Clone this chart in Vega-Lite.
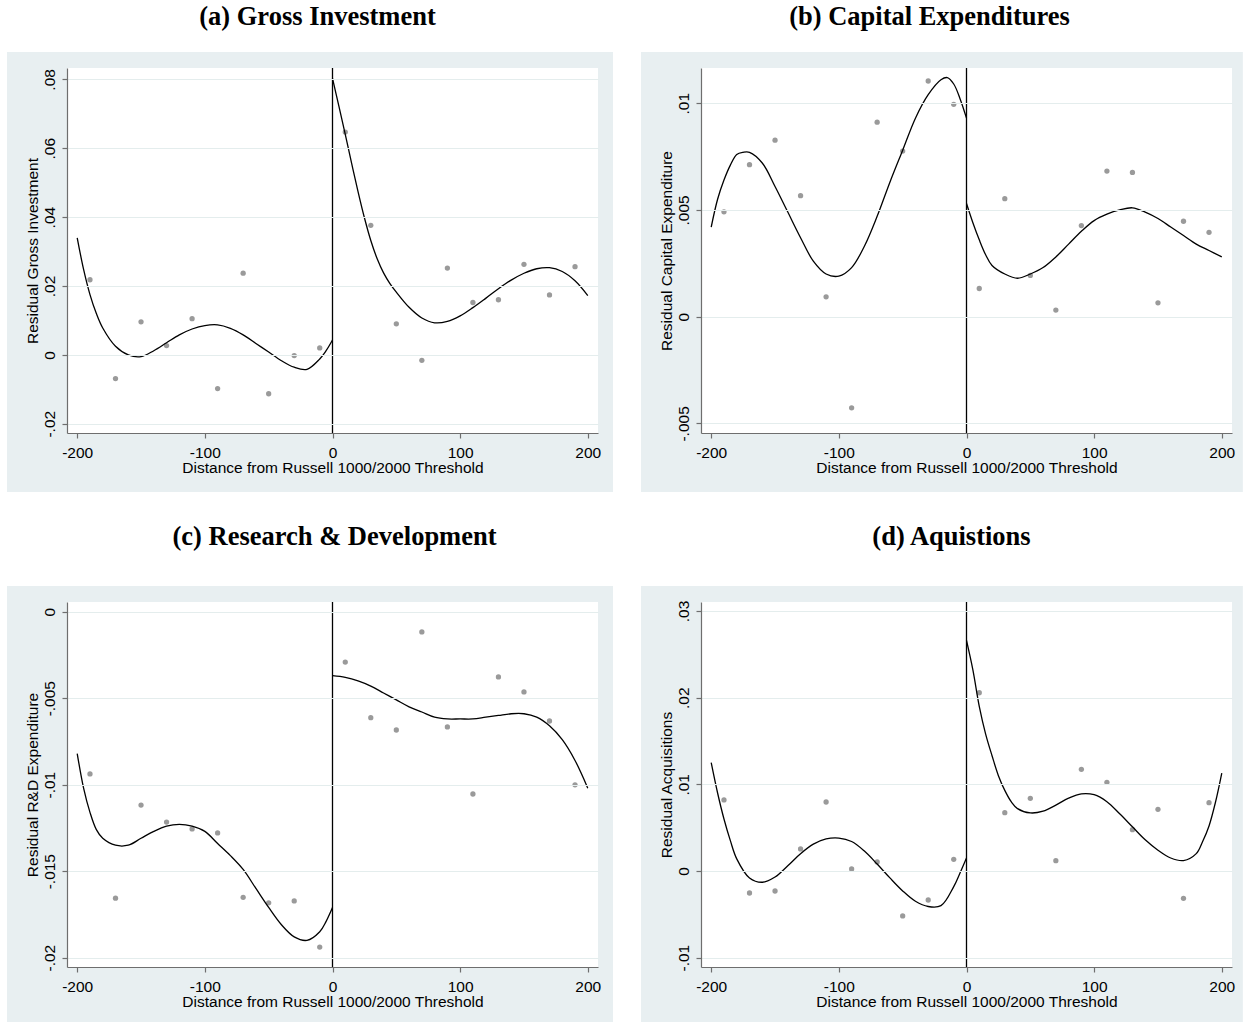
{
  "$schema": "https://vega.github.io/schema/vega-lite/v6.json",
  "background": "white",
  "padding": {"left": 7, "top": 4, "right": 0, "bottom": 0},
  "config": {
    "view": {"stroke": null, "fill": "white"},
    "axis": {"labelFont": "Liberation Sans", "titleFont": "Liberation Sans", "labelFontSize": 15.5, "titleFontSize": 15.5, "titleFontWeight": "normal", "labelColor": "black", "titleColor": "black", "domainColor": "#6e6e6e", "tickColor": "#6e6e6e", "tickSize": 5, "domainWidth": 1.2, "tickWidth": 1.2, "labelFlush": false, "labelOverlap": false},
    "axisX": {"grid": false, "labelPadding": 7, "titlePadding": 0, "labelExpr": "replace(datum.label, '−', '-')"},
    "axisY": {"grid": true, "gridColor": "#e4eded", "gridWidth": 1.2, "labelAngle": 270, "labelAlign": "center", "labelBaseline": "alphabetic", "labelPadding": 8, "titlePadding": 2, "labelExpr": "replace(replace(format(datum.value, '~g'), '−', '-'), '0.', '.')"},
    "title": {"font": "Liberation Serif", "fontSize": 26.5, "fontWeight": "bold", "color": "black"}
  },
  "datasets": {
    "a_pts": [
      {"x": -190, "y": 0.0218}, {"x": -170, "y": -0.0069}, {"x": -150, "y": 0.0096}, {"x": -130, "y": 0.0027}, {"x": -110, "y": 0.0105},
      {"x": -90, "y": -0.0098}, {"x": -70, "y": 0.0237}, {"x": -50, "y": -0.0113}, {"x": -30, "y": -0.0002}, {"x": -10, "y": 0.0020},
      {"x": 10, "y": 0.0647}, {"x": 30, "y": 0.0376}, {"x": 50, "y": 0.0090}, {"x": 70, "y": -0.0016}, {"x": 90, "y": 0.0252},
      {"x": 110, "y": 0.0152}, {"x": 130, "y": 0.0160}, {"x": 150, "y": 0.0263}, {"x": 170, "y": 0.0174}, {"x": 190, "y": 0.0256}
    ],
    "a_fit": [
      {"s": "L", "x": -200, "y": 0.0340}, {"s": "L", "x": -195, "y": 0.0248}, {"s": "L", "x": -190, "y": 0.0175}, {"s": "L", "x": -185, "y": 0.0120},
      {"s": "L", "x": -180, "y": 0.0078}, {"s": "L", "x": -170, "y": 0.0025}, {"s": "L", "x": -160, "y": 0.0000}, {"s": "L", "x": -150, "y": -0.0005},
      {"s": "L", "x": -140, "y": 0.0012}, {"s": "L", "x": -130, "y": 0.0035}, {"s": "L", "x": -120, "y": 0.0058}, {"s": "L", "x": -110, "y": 0.0075},
      {"s": "L", "x": -100, "y": 0.0085}, {"s": "L", "x": -90, "y": 0.0087}, {"s": "L", "x": -80, "y": 0.0077}, {"s": "L", "x": -70, "y": 0.0058},
      {"s": "L", "x": -60, "y": 0.0033}, {"s": "L", "x": -50, "y": 0.0008}, {"s": "L", "x": -40, "y": -0.0017}, {"s": "L", "x": -30, "y": -0.0036},
      {"s": "L", "x": -20, "y": -0.0042}, {"s": "L", "x": -10, "y": -0.0012}, {"s": "L", "x": -5, "y": 0.0012}, {"s": "L", "x": 0, "y": 0.0043},
      {"s": "R", "x": 0, "y": 0.0803}, {"s": "R", "x": 5, "y": 0.0722}, {"s": "R", "x": 10, "y": 0.0640}, {"s": "R", "x": 15, "y": 0.0556},
      {"s": "R", "x": 20, "y": 0.0474}, {"s": "R", "x": 25, "y": 0.0398}, {"s": "R", "x": 30, "y": 0.0332}, {"s": "R", "x": 35, "y": 0.0279},
      {"s": "R", "x": 40, "y": 0.0238}, {"s": "R", "x": 45, "y": 0.0207}, {"s": "R", "x": 50, "y": 0.0182}, {"s": "R", "x": 60, "y": 0.0138},
      {"s": "R", "x": 70, "y": 0.0107}, {"s": "R", "x": 80, "y": 0.0093}, {"s": "R", "x": 90, "y": 0.0097}, {"s": "R", "x": 100, "y": 0.0113},
      {"s": "R", "x": 110, "y": 0.0137}, {"s": "R", "x": 120, "y": 0.0164}, {"s": "R", "x": 130, "y": 0.0192}, {"s": "R", "x": 140, "y": 0.0217},
      {"s": "R", "x": 150, "y": 0.0237}, {"s": "R", "x": 160, "y": 0.0250}, {"s": "R", "x": 170, "y": 0.0253}, {"s": "R", "x": 180, "y": 0.0242},
      {"s": "R", "x": 190, "y": 0.0215}, {"s": "R", "x": 200, "y": 0.0172}
    ],
    "b_pts": [
      {"x": -190, "y": 0.00491}, {"x": -170, "y": 0.00712}, {"x": -150, "y": 0.00827}, {"x": -130, "y": 0.00567}, {"x": -110, "y": 0.00093},
      {"x": -90, "y": -0.00427}, {"x": -70, "y": 0.00911}, {"x": -50, "y": 0.00776}, {"x": -30, "y": 0.01104}, {"x": -10, "y": 0.00995},
      {"x": 10, "y": 0.00132}, {"x": 30, "y": 0.00553}, {"x": 50, "y": 0.00193}, {"x": 70, "y": 0.00031}, {"x": 90, "y": 0.00427},
      {"x": 110, "y": 0.00682}, {"x": 130, "y": 0.00676}, {"x": 150, "y": 0.00065}, {"x": 170, "y": 0.00447}, {"x": 190, "y": 0.00395}
    ],
    "b_fit": [
      {"s": "L", "x": -200, "y": 0.0042}, {"s": "L", "x": -195, "y": 0.0055}, {"s": "L", "x": -190, "y": 0.0064}, {"s": "L", "x": -185, "y": 0.0071},
      {"s": "L", "x": -180, "y": 0.0076}, {"s": "L", "x": -175, "y": 0.0077}, {"s": "L", "x": -170, "y": 0.0077}, {"s": "L", "x": -160, "y": 0.0072},
      {"s": "L", "x": -150, "y": 0.0061}, {"s": "L", "x": -140, "y": 0.0049}, {"s": "L", "x": -130, "y": 0.0037}, {"s": "L", "x": -120, "y": 0.0026},
      {"s": "L", "x": -110, "y": 0.0020}, {"s": "L", "x": -100, "y": 0.0019}, {"s": "L", "x": -90, "y": 0.0023}, {"s": "L", "x": -80, "y": 0.0033},
      {"s": "L", "x": -70, "y": 0.0047}, {"s": "L", "x": -60, "y": 0.0063}, {"s": "L", "x": -50, "y": 0.0078}, {"s": "L", "x": -40, "y": 0.0093},
      {"s": "L", "x": -30, "y": 0.0104}, {"s": "L", "x": -20, "y": 0.0111}, {"s": "L", "x": -15, "y": 0.0112}, {"s": "L", "x": -10, "y": 0.0109},
      {"s": "L", "x": -5, "y": 0.0102}, {"s": "L", "x": 0, "y": 0.0093},
      {"s": "R", "x": 0, "y": 0.0053}, {"s": "R", "x": 5, "y": 0.0044}, {"s": "R", "x": 10, "y": 0.0036}, {"s": "R", "x": 15, "y": 0.0029},
      {"s": "R", "x": 20, "y": 0.0024}, {"s": "R", "x": 30, "y": 0.0020}, {"s": "R", "x": 40, "y": 0.0018}, {"s": "R", "x": 50, "y": 0.0020},
      {"s": "R", "x": 60, "y": 0.0023}, {"s": "R", "x": 70, "y": 0.0028}, {"s": "R", "x": 80, "y": 0.0034}, {"s": "R", "x": 90, "y": 0.0040},
      {"s": "R", "x": 100, "y": 0.0045}, {"s": "R", "x": 110, "y": 0.0048}, {"s": "R", "x": 120, "y": 0.0050}, {"s": "R", "x": 130, "y": 0.0051},
      {"s": "R", "x": 140, "y": 0.0049}, {"s": "R", "x": 150, "y": 0.0046}, {"s": "R", "x": 160, "y": 0.0042}, {"s": "R", "x": 170, "y": 0.0038},
      {"s": "R", "x": 180, "y": 0.0034}, {"s": "R", "x": 190, "y": 0.0031}, {"s": "R", "x": 200, "y": 0.0028}
    ],
    "c_pts": [
      {"x": -190, "y": -0.00938}, {"x": -170, "y": -0.01656}, {"x": -150, "y": -0.01118}, {"x": -130, "y": -0.01216}, {"x": -110, "y": -0.01256},
      {"x": -90, "y": -0.01279}, {"x": -70, "y": -0.01651}, {"x": -50, "y": -0.01683}, {"x": -30, "y": -0.01672}, {"x": -10, "y": -0.01939},
      {"x": 10, "y": -0.00291}, {"x": 30, "y": -0.00613}, {"x": 50, "y": -0.00684}, {"x": 70, "y": -0.00117}, {"x": 90, "y": -0.00666},
      {"x": 110, "y": -0.01054}, {"x": 130, "y": -0.00377}, {"x": 150, "y": -0.00464}, {"x": 170, "y": -0.00632}, {"x": 190, "y": -0.01001}
    ],
    "c_fit": [
      {"s": "L", "x": -200, "y": -0.0082}, {"s": "L", "x": -195, "y": -0.0102}, {"s": "L", "x": -190, "y": -0.0116}, {"s": "L", "x": -185, "y": -0.0126},
      {"s": "L", "x": -180, "y": -0.0131}, {"s": "L", "x": -170, "y": -0.0135}, {"s": "L", "x": -160, "y": -0.0135}, {"s": "L", "x": -150, "y": -0.0131},
      {"s": "L", "x": -140, "y": -0.0127}, {"s": "L", "x": -130, "y": -0.0124}, {"s": "L", "x": -120, "y": -0.0123}, {"s": "L", "x": -110, "y": -0.0124},
      {"s": "L", "x": -100, "y": -0.0127}, {"s": "L", "x": -90, "y": -0.0134}, {"s": "L", "x": -80, "y": -0.0141}, {"s": "L", "x": -70, "y": -0.0149},
      {"s": "L", "x": -60, "y": -0.0160}, {"s": "L", "x": -50, "y": -0.0171}, {"s": "L", "x": -40, "y": -0.0181}, {"s": "L", "x": -30, "y": -0.0188},
      {"s": "L", "x": -20, "y": -0.0190}, {"s": "L", "x": -10, "y": -0.0185}, {"s": "L", "x": -5, "y": -0.0179}, {"s": "L", "x": 0, "y": -0.0171},
      {"s": "R", "x": 0, "y": -0.0037}, {"s": "R", "x": 10, "y": -0.0038}, {"s": "R", "x": 20, "y": -0.0040}, {"s": "R", "x": 30, "y": -0.0043},
      {"s": "R", "x": 40, "y": -0.0047}, {"s": "R", "x": 50, "y": -0.0051}, {"s": "R", "x": 60, "y": -0.0055}, {"s": "R", "x": 70, "y": -0.0058},
      {"s": "R", "x": 80, "y": -0.0061}, {"s": "R", "x": 90, "y": -0.0062}, {"s": "R", "x": 100, "y": -0.0062}, {"s": "R", "x": 110, "y": -0.0062},
      {"s": "R", "x": 120, "y": -0.0061}, {"s": "R", "x": 130, "y": -0.0060}, {"s": "R", "x": 140, "y": -0.0059}, {"s": "R", "x": 150, "y": -0.0059},
      {"s": "R", "x": 160, "y": -0.0061}, {"s": "R", "x": 170, "y": -0.0066}, {"s": "R", "x": 180, "y": -0.0074}, {"s": "R", "x": 190, "y": -0.0086},
      {"s": "R", "x": 200, "y": -0.0102}
    ],
    "d_pts": [
      {"x": -190, "y": 0.0082}, {"x": -170, "y": -0.00254}, {"x": -150, "y": -0.00231}, {"x": -130, "y": 0.00254}, {"x": -110, "y": 0.00796},
      {"x": -90, "y": 0.00023}, {"x": -70, "y": 0.00104}, {"x": -50, "y": -0.00519}, {"x": -30, "y": -0.00335}, {"x": -10, "y": 0.00135},
      {"x": 10, "y": 0.02057}, {"x": 30, "y": 0.00673}, {"x": 50, "y": 0.00838}, {"x": 70, "y": 0.00119}, {"x": 90, "y": 0.01173},
      {"x": 110, "y": 0.01023}, {"x": 130, "y": 0.00477}, {"x": 150, "y": 0.00712}, {"x": 170, "y": -0.00315}, {"x": 190, "y": 0.00788}
    ],
    "d_fit": [
      {"s": "L", "x": -200, "y": 0.0125}, {"s": "L", "x": -195, "y": 0.0090}, {"s": "L", "x": -190, "y": 0.0060}, {"s": "L", "x": -185, "y": 0.0035},
      {"s": "L", "x": -180, "y": 0.0014}, {"s": "L", "x": -170, "y": -0.0008}, {"s": "L", "x": -160, "y": -0.0013}, {"s": "L", "x": -150, "y": -0.0007},
      {"s": "L", "x": -140, "y": 0.0006}, {"s": "L", "x": -130, "y": 0.0020}, {"s": "L", "x": -120, "y": 0.0031}, {"s": "L", "x": -110, "y": 0.0037},
      {"s": "L", "x": -100, "y": 0.0038}, {"s": "L", "x": -90, "y": 0.0034}, {"s": "L", "x": -80, "y": 0.0023}, {"s": "L", "x": -70, "y": 0.0008},
      {"s": "L", "x": -60, "y": -0.0008}, {"s": "L", "x": -50, "y": -0.0023}, {"s": "L", "x": -40, "y": -0.0035}, {"s": "L", "x": -30, "y": -0.0041},
      {"s": "L", "x": -20, "y": -0.0040}, {"s": "L", "x": -10, "y": -0.0018}, {"s": "L", "x": -5, "y": -0.0002}, {"s": "L", "x": 0, "y": 0.0015},
      {"s": "R", "x": 0, "y": 0.0266}, {"s": "R", "x": 5, "y": 0.0232}, {"s": "R", "x": 10, "y": 0.0190}, {"s": "R", "x": 15, "y": 0.0158},
      {"s": "R", "x": 20, "y": 0.0133}, {"s": "R", "x": 25, "y": 0.0110}, {"s": "R", "x": 30, "y": 0.0093}, {"s": "R", "x": 35, "y": 0.0080},
      {"s": "R", "x": 40, "y": 0.0072}, {"s": "R", "x": 50, "y": 0.0067}, {"s": "R", "x": 60, "y": 0.0069}, {"s": "R", "x": 70, "y": 0.0076},
      {"s": "R", "x": 80, "y": 0.0084}, {"s": "R", "x": 90, "y": 0.0089}, {"s": "R", "x": 100, "y": 0.0088}, {"s": "R", "x": 110, "y": 0.0080},
      {"s": "R", "x": 120, "y": 0.0066}, {"s": "R", "x": 130, "y": 0.0051}, {"s": "R", "x": 140, "y": 0.0036}, {"s": "R", "x": 150, "y": 0.0024},
      {"s": "R", "x": 160, "y": 0.0015}, {"s": "R", "x": 170, "y": 0.0012}, {"s": "R", "x": 180, "y": 0.0020}, {"s": "R", "x": 185, "y": 0.0034},
      {"s": "R", "x": 190, "y": 0.0052}, {"s": "R", "x": 195, "y": 0.0079}, {"s": "R", "x": 200, "y": 0.0113}
    ]
  },
  "spacing": 32,
  "vconcat": [
    {
      "spacing": 28,
      "hconcat": [
        {
          "width": 531, "height": 365,
          "title": {"text": "(a) Gross Investment", "frame": "group", "dx": -15, "offset": 21},
          "layer": [
            {"data": {"values": [{}]}, "mark": {"type": "rect", "color": "#e8eff1"},
             "encoding": {
               "x": {"datum": -255, "type": "quantitative", "scale": {"domain": [-208, 208], "nice": false, "zero": false}},
               "x2": {"datum": 219.75},
               "y": {"datum": 0.08795, "type": "quantitative", "scale": {"domain": [-0.0227, 0.0833], "nice": false, "zero": false}},
               "y2": {"datum": -0.03983}}},
            {"data": {"values": [{}]}, "mark": {"type": "rect", "color": "white"},
             "encoding": {
               "x": {"datum": -208, "type": "quantitative", "scale": {"domain": [-208, 208], "nice": false, "zero": false}},
               "x2": {"datum": 208},
               "y": {"datum": 0.0833, "type": "quantitative", "scale": {"domain": [-0.0227, 0.0833], "nice": false, "zero": false}},
               "y2": {"datum": -0.0227}}},
            {"data": {"name": "a_pts"}, "mark": {"type": "circle", "color": "#9a9a9a", "opacity": 1, "size": 28},
             "encoding": {
               "x": {"field": "x", "type": "quantitative", "scale": {"domain": [-208, 208], "nice": false, "zero": false}, "axis": {"zindex": 1, "title": "Distance from Russell 1000/2000 Threshold", "values": [-200, -100, 0, 100, 200]}},
               "y": {"field": "y", "type": "quantitative", "scale": {"domain": [-0.0227, 0.0833], "nice": false, "zero": false}, "axis": {"zindex": 1, "title": "Residual Gross Investment", "values": [-0.02, 0, 0.02, 0.04, 0.06, 0.08]}}}},
            {"data": {"name": "a_fit"}, "mark": {"type": "line", "color": "black", "strokeWidth": 1.3, "interpolate": "catmull-rom"},
             "encoding": {
               "x": {"field": "x", "type": "quantitative", "scale": {"domain": [-208, 208], "nice": false, "zero": false}},
               "y": {"field": "y", "type": "quantitative", "scale": {"domain": [-0.0227, 0.0833], "nice": false, "zero": false}},
               "detail": {"field": "s"}}},
            {"data": {"values": [{}]}, "mark": {"type": "rule", "color": "black", "strokeWidth": 1.3},
             "encoding": {"x": {"datum": 0, "type": "quantitative", "scale": {"domain": [-208, 208], "nice": false, "zero": false}}}}
          ]
        },
        {
          "width": 531, "height": 365,
          "title": {"text": "(b) Capital Expenditures", "frame": "group", "dx": -37, "offset": 21},
          "layer": [
            {"data": {"values": [{}]}, "mark": {"type": "rect", "color": "#e8eff1"},
             "encoding": {
               "x": {"datum": -255, "type": "quantitative", "scale": {"domain": [-208, 208], "nice": false, "zero": false}},
               "x2": {"datum": 216.5},
               "y": {"datum": 0.0124, "type": "quantitative", "scale": {"domain": [-0.00545, 0.01165], "nice": false, "zero": false}},
               "y2": {"datum": -0.00821}}},
            {"data": {"values": [{}]}, "mark": {"type": "rect", "color": "white"},
             "encoding": {
               "x": {"datum": -208, "type": "quantitative", "scale": {"domain": [-208, 208], "nice": false, "zero": false}},
               "x2": {"datum": 208},
               "y": {"datum": 0.01165, "type": "quantitative", "scale": {"domain": [-0.00545, 0.01165], "nice": false, "zero": false}},
               "y2": {"datum": -0.00545}}},
            {"data": {"name": "b_pts"}, "mark": {"type": "circle", "color": "#9a9a9a", "opacity": 1, "size": 28},
             "encoding": {
               "x": {"field": "x", "type": "quantitative", "scale": {"domain": [-208, 208], "nice": false, "zero": false}, "axis": {"zindex": 1, "title": "Distance from Russell 1000/2000 Threshold", "values": [-200, -100, 0, 100, 200]}},
               "y": {"field": "y", "type": "quantitative", "scale": {"domain": [-0.00545, 0.01165], "nice": false, "zero": false}, "axis": {"zindex": 1, "title": "Residual Capital Expenditure", "values": [-0.005, 0, 0.005, 0.01]}}}},
            {"data": {"name": "b_fit"}, "mark": {"type": "line", "color": "black", "strokeWidth": 1.3, "interpolate": "catmull-rom"},
             "encoding": {
               "x": {"field": "x", "type": "quantitative", "scale": {"domain": [-208, 208], "nice": false, "zero": false}},
               "y": {"field": "y", "type": "quantitative", "scale": {"domain": [-0.00545, 0.01165], "nice": false, "zero": false}},
               "detail": {"field": "s"}}},
            {"data": {"values": [{}]}, "mark": {"type": "rule", "color": "black", "strokeWidth": 1.3},
             "encoding": {"x": {"datum": 0, "type": "quantitative", "scale": {"domain": [-208, 208], "nice": false, "zero": false}}}}
          ]
        }
      ]
    },
    {
      "spacing": 28,
      "hconcat": [
        {
          "width": 531, "height": 365,
          "title": {"text": "(c) Research & Development", "frame": "group", "dx": 2, "offset": 35},
          "layer": [
            {"data": {"values": [{}]}, "mark": {"type": "rect", "color": "#e8eff1"},
             "encoding": {
               "x": {"datum": -255, "type": "quantitative", "scale": {"domain": [-208, 208], "nice": false, "zero": false}},
               "x2": {"datum": 219.75},
               "y": {"datum": 0.00149, "type": "quantitative", "scale": {"domain": [-0.02054, 0.00056], "nice": false, "zero": false}},
               "y2": {"datum": -0.02372}}},
            {"data": {"values": [{}]}, "mark": {"type": "rect", "color": "white"},
             "encoding": {
               "x": {"datum": -208, "type": "quantitative", "scale": {"domain": [-208, 208], "nice": false, "zero": false}},
               "x2": {"datum": 208},
               "y": {"datum": 0.00056, "type": "quantitative", "scale": {"domain": [-0.02054, 0.00056], "nice": false, "zero": false}},
               "y2": {"datum": -0.02054}}},
            {"data": {"name": "c_pts"}, "mark": {"type": "circle", "color": "#9a9a9a", "opacity": 1, "size": 28},
             "encoding": {
               "x": {"field": "x", "type": "quantitative", "scale": {"domain": [-208, 208], "nice": false, "zero": false}, "axis": {"zindex": 1, "title": "Distance from Russell 1000/2000 Threshold", "values": [-200, -100, 0, 100, 200]}},
               "y": {"field": "y", "type": "quantitative", "scale": {"domain": [-0.02054, 0.00056], "nice": false, "zero": false}, "axis": {"zindex": 1, "title": "Residual R&D Expenditure", "values": [-0.02, -0.015, -0.01, -0.005, 0]}}}},
            {"data": {"name": "c_fit"}, "mark": {"type": "line", "color": "black", "strokeWidth": 1.3, "interpolate": "catmull-rom"},
             "encoding": {
               "x": {"field": "x", "type": "quantitative", "scale": {"domain": [-208, 208], "nice": false, "zero": false}},
               "y": {"field": "y", "type": "quantitative", "scale": {"domain": [-0.02054, 0.00056], "nice": false, "zero": false}},
               "detail": {"field": "s"}}},
            {"data": {"values": [{}]}, "mark": {"type": "rule", "color": "black", "strokeWidth": 1.3},
             "encoding": {"x": {"datum": 0, "type": "quantitative", "scale": {"domain": [-208, 208], "nice": false, "zero": false}}}}
          ]
        },
        {
          "width": 531, "height": 365,
          "title": {"text": "(d) Aquistions", "frame": "group", "dx": -15, "offset": 35},
          "layer": [
            {"data": {"values": [{}]}, "mark": {"type": "rect", "color": "#e8eff1"},
             "encoding": {
               "x": {"datum": -255, "type": "quantitative", "scale": {"domain": [-208, 208], "nice": false, "zero": false}},
               "x2": {"datum": 216.5},
               "y": {"datum": 0.03289, "type": "quantitative", "scale": {"domain": [-0.01108, 0.03104], "nice": false, "zero": false}},
               "y2": {"datum": -0.01743}}},
            {"data": {"values": [{}]}, "mark": {"type": "rect", "color": "white"},
             "encoding": {
               "x": {"datum": -208, "type": "quantitative", "scale": {"domain": [-208, 208], "nice": false, "zero": false}},
               "x2": {"datum": 208},
               "y": {"datum": 0.03104, "type": "quantitative", "scale": {"domain": [-0.01108, 0.03104], "nice": false, "zero": false}},
               "y2": {"datum": -0.01108}}},
            {"data": {"name": "d_pts"}, "mark": {"type": "circle", "color": "#9a9a9a", "opacity": 1, "size": 28},
             "encoding": {
               "x": {"field": "x", "type": "quantitative", "scale": {"domain": [-208, 208], "nice": false, "zero": false}, "axis": {"zindex": 1, "title": "Distance from Russell 1000/2000 Threshold", "values": [-200, -100, 0, 100, 200]}},
               "y": {"field": "y", "type": "quantitative", "scale": {"domain": [-0.01108, 0.03104], "nice": false, "zero": false}, "axis": {"zindex": 1, "title": "Residual Acquisitions", "values": [-0.01, 0, 0.01, 0.02, 0.03]}}}},
            {"data": {"name": "d_fit"}, "mark": {"type": "line", "color": "black", "strokeWidth": 1.3, "interpolate": "catmull-rom"},
             "encoding": {
               "x": {"field": "x", "type": "quantitative", "scale": {"domain": [-208, 208], "nice": false, "zero": false}},
               "y": {"field": "y", "type": "quantitative", "scale": {"domain": [-0.01108, 0.03104], "nice": false, "zero": false}},
               "detail": {"field": "s"}}},
            {"data": {"values": [{}]}, "mark": {"type": "rule", "color": "black", "strokeWidth": 1.3},
             "encoding": {"x": {"datum": 0, "type": "quantitative", "scale": {"domain": [-208, 208], "nice": false, "zero": false}}}}
          ]
        }
      ]
    }
  ]
}
